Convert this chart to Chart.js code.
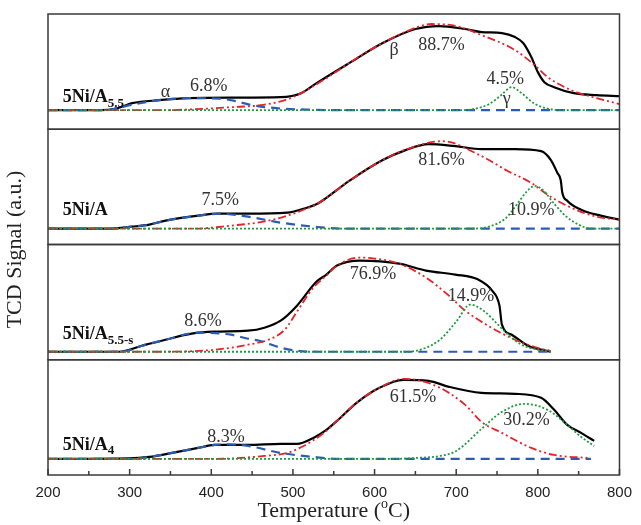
<!DOCTYPE html>
<html>
<head>
<meta charset="utf-8">
<script src="https://cdn.jsdelivr.net/npm/chart.js"></script>
<style>
  html, body { margin: 0; padding: 0; background: #fff; }
  canvas { display: block; }
</style>
</head>
<body>
<canvas id="tpr" width="641" height="525"></canvas>
<script>
  // x tick labels as printed in the figure (last one really reads 800)
  const xTickLabels = ['200', '300', '400', '500', '600', '700', '800', '800'];

  // [temperature, signal] pairs, signal in a.u. above each panel baseline
  const p1Measured = [[200,0],[265,0],[285,2],[303,7],[336,10],[372,12],[430,12.5],[485,13],[510,17],[529,27],[569,47],[610,67],[650,81],[679,84],[711,81],[731,78],[756,77],[772,73],[782,67],[792,53],[800,38],[808,28],[820,23],[844,17],[872,15],[900,14]];
  const p1Alpha = [[200,0],[270,0],[300,5],[336,10],[372,12],[410,11.5],[430,9],[450,5],[480,2],[520,0.5],[560,0],[900,0]];
  const p1Beta = [[200,0],[340,0],[380,1],[424,3],[460,5],[490,10],[510,17],[529,26],[541,32],[569,47],[590,58],[610,67],[640,79],[670,86],[700,84],[731,75],[772,60],[796,45],[812,33],[841,20],[872,12],[900,6]];
  const p1Gamma = [[200,0],[700,0],[720,1],[740,6],[755,15],[768,23],[780,17],[795,7],[810,2],[830,0],[900,0]];

  const p2Measured = [[200,0],[275,0],[303,2],[324,4],[344,8],[384,13],[408,15],[445,15],[493,16],[513,20],[530,25],[541,31],[569,48],[610,69],[638,79],[666,85],[699,83],[731,80],[772,80],[804,78],[816,69],[824,56],[828,49],[830,36],[836,28],[853,19],[877,13],[900,9]];
  const p2Alpha = [[200,0],[280,0],[303,2],[324,4],[344,8],[384,13],[410,15],[445,12],[485,6],[525,2],[560,0],[900,0]];
  const p2Beta = [[200,0],[380,0],[424,3],[464,7],[493,13],[513,19],[530,25],[541,31],[569,48],[610,69],[640,80],[683,88],[731,73],[763,58],[792,46],[812,34],[841,21],[872,12],[900,9]];
  const p2Gamma = [[200,0],[720,0],[740,2],[760,10],[775,25],[786,37],[796,43],[806,39],[820,25],[835,12],[850,4],[865,0],[900,0]];

  const p3Measured = [[200,0],[287,0],[315,6],[344,12],[376,18],[404,20],[445,21],[465,24],[485,31],[505,46],[529,70],[541,77],[554,86],[582,91],[630,88],[663,81],[699,77],[727,72],[744,61],[753,46],[756,27],[768,17],[788,6],[816,0]];
  const p3Alpha = [[200,0],[290,0],[315,6],[344,12],[384,19],[424,17],[445,13],[459,11],[485,4],[505,1],[530,0],[816,0]];
  const p3Beta = [[200,0],[340,0],[404,2],[445,7],[470,12],[490,22],[505,40],[525,64],[541,76],[554,86],[582,94],[600,93],[630,88],[663,74],[691,56],[711,41],[739,26],[772,12],[804,3],[816,1]];
  const p3Gamma = [[200,0],[640,0],[660,3],[680,12],[700,30],[717,47],[735,40],[750,28],[765,16],[780,7],[800,2],[816,0]];

  const p4Measured = [[200,0],[299,0.5],[324,2],[352,6],[384,11],[404,14],[445,14],[485,15],[505,15],[525,21],[541,29],[554,38],[578,56],[606,71],[635,79],[666,78],[691,72],[731,66],[772,65],[804,61],[820,49],[836,34],[853,26],[869,18]];
  const p4Alpha = [[200,0],[300,0],[324,2],[352,6],[384,11],[404,14],[420,14.5],[445,13],[485,6],[525,2],[560,0],[865,0]];
  const p4Beta = [[200,0],[400,0],[424,0.5],[465,3],[493,6],[513,13],[533,23],[541,28],[554,38],[578,56],[606,71],[636,80],[675,73],[711,54],[731,37],[756,26],[792,11],[820,4],[862,1]];
  const p4Gamma = [[200,0],[620,0],[650,1],[680,3],[700,8],[731,30],[756,47],[784,55],[812,49],[836,34],[853,22],[869,13]];

  // sample names (main part + subscript)
  const sampleNames = ['5Ni/A', '5Ni/A', '5Ni/A', '5Ni/A'];
  const sampleSubs = ['5.5', '', '5.5-s', '4'];

  // peak annotations: panel, temperature, signal, text
  const peakNotes = [
    [0, 344, 18, 'α'], [0, 397, 24, '6.8%'], [0, 624, 60, 'β'], [0, 682, 65, '88.7%'], [0, 760, 31, '4.5%'], [0, 762, 11, 'γ'],
    [1, 411, 29, '7.5%'], [1, 682, 69, '81.6%'], [1, 792, 18, '10.9%'],
    [2, 390, 30, '8.6%'], [2, 598, 77, '76.9%'], [2, 718, 55, '14.9%'],
    [3, 418, 22, '8.3%'], [3, 647, 62, '61.5%'], [3, 786, 39, '30.2%'],
  ];

  const panels = [
    { id: 'y1', range: [-19, 96], series: [p1Measured, p1Alpha, p1Beta, p1Gamma] },
    { id: 'y2', range: [-16, 100], series: [p2Measured, p2Alpha, p2Beta, p2Gamma] },
    { id: 'y3', range: [-8, 107], series: [p3Measured, p3Alpha, p3Beta, p3Gamma] },
    { id: 'y4', range: [-16, 99], series: [p4Measured, p4Alpha, p4Beta, p4Gamma] },
  ];

  const lineStyles = [
    { borderColor: '#000000', borderWidth: 2.2, borderDash: [], order: 4 },
    { borderColor: '#2b5cb5', borderWidth: 2.2, borderDash: [9, 6], order: 3 },
    { borderColor: '#e4232b', borderWidth: 1.8, borderDash: [8, 3, 2, 3, 2, 3], order: 2 },
    { borderColor: '#1f9a3e', borderWidth: 1.8, borderDash: [2, 2], order: 1 },
  ];

  const toPoints = (pairs) => pairs.map(p => ({ x: p[0], y: p[1] }));

  const datasets = [];
  panels.forEach(panel => {
    panel.series.forEach((s, i) => {
      datasets.push({
        data: toPoints(s),
        yAxisID: panel.id,
        pointRadius: 0,
        fill: false,
        cubicInterpolationMode: 'monotone',
        ...lineStyles[i],
      });
    });
  });

  // left stacked axes are laid out last-defined-first, so add them bottom-up
  const yScales = {};
  panels.slice().reverse().forEach(panel => {
    yScales[panel.id] = {
      type: 'linear',
      position: 'left',
      stack: 'panels',
      stackWeight: 1,
      min: panel.range[0],
      max: panel.range[1],
      ticks: { display: false },
      grid: { display: false, drawTicks: false },
      border: { display: false },
    };
  });

  const framePlugin = {
    id: 'frame',
    afterDatasetsDraw(chart) {
      const { ctx, chartArea, scales } = chart;
      ctx.save();
      ctx.strokeStyle = '#3a3a3a';
      ctx.lineWidth = 1.5;
      panels.forEach(panel => {
        const s = scales[panel.id];
        ctx.strokeRect(chartArea.left, s.top, chartArea.right - chartArea.left, s.bottom - s.top);
      });
      const x = scales.x;
      x.ticks.forEach(tk => {
        const px = x.getPixelForValue(tk.value);
        const len = tk.value % 100 === 0 ? 6 : 4;
        ctx.beginPath();
        ctx.moveTo(px, chartArea.bottom);
        ctx.lineTo(px, chartArea.bottom - len);
        ctx.stroke();
      });
      ctx.restore();
    }
  };

  const textPlugin = {
    id: 'texts',
    afterDatasetsDraw(chart) {
      const { ctx, chartArea, scales } = chart;
      const x = scales.x;
      ctx.save();
      ctx.textBaseline = 'middle';

      // sample names
      const nameHeights = [13, 18, 17, 14];
      panels.forEach((panel, i) => {
        const y = scales[panel.id].getPixelForValue(nameHeights[i]);
        const px = x.getPixelForValue(218);
        ctx.fillStyle = '#111';
        ctx.textAlign = 'left';
        ctx.font = 'bold 18px "Liberation Serif"';
        ctx.fillText(sampleNames[i], px, y);
        const w = ctx.measureText(sampleNames[i]).width;
        if (sampleSubs[i]) {
          ctx.font = 'bold 13px "Liberation Serif"';
          ctx.fillText(sampleSubs[i], px + w, y + 6);
        }
      });

      // peak notes
      ctx.fillStyle = '#333';
      ctx.textAlign = 'center';
      ctx.font = '18px "Liberation Serif"';
      peakNotes.forEach(n => {
        const s = scales[panels[n[0]].id];
        ctx.fillText(n[3], x.getPixelForValue(n[1]), s.getPixelForValue(n[2]));
      });

      // x title with superscript o
      ctx.fillStyle = '#222';
      const main1 = 'Temperature (';
      const main2 = 'C)';
      ctx.font = '22px "Liberation Serif"';
      const w1 = ctx.measureText(main1).width;
      const w2 = ctx.measureText(main2).width;
      ctx.font = '14px "Liberation Serif"';
      const ws = ctx.measureText('o').width;
      const total = w1 + ws + w2;
      const cx = (chartArea.left + chartArea.right) / 2;
      let sx = cx - total / 2;
      const ty = 511;
      ctx.textAlign = 'left';
      ctx.font = '22px "Liberation Serif"';
      ctx.fillText(main1, sx, ty);
      sx += w1;
      ctx.font = '14px "Liberation Serif"';
      ctx.fillText('o', sx, ty - 7);
      sx += ws;
      ctx.font = '22px "Liberation Serif"';
      ctx.fillText(main2, sx, ty);

      // y title
      ctx.translate(15, (chartArea.top + chartArea.bottom) / 2 + 5);
      ctx.rotate(-Math.PI / 2);
      ctx.textAlign = 'center';
      ctx.fillText('TCD Signal (a.u.)', 0, 0);
      ctx.restore();
    }
  };

  new Chart(document.getElementById('tpr'), {
    type: 'line',
    data: { datasets },
    options: {
      responsive: false,
      devicePixelRatio: 1,
      animation: false,
      layout: { padding: { left: 48, right: 15, top: 14, bottom: 14 } },
      plugins: { legend: { display: false }, tooltip: { enabled: false } },
      scales: {
        x: {
          type: 'linear',
          min: 200,
          max: 900,
          grid: { display: false, drawTicks: false },
          border: { display: false },
          ticks: {
            stepSize: 50,
            autoSkip: false,
            maxRotation: 0,
            padding: 9,
            color: '#222',
            font: { family: '"Liberation Sans"', size: 15 },
            callback: (v) => (v % 100 === 0 ? xTickLabels[(v - 200) / 100] : ''),
          },
        },
        ...yScales,
      },
    },
    plugins: [framePlugin, textPlugin],
  });
</script>
</body>
</html>
